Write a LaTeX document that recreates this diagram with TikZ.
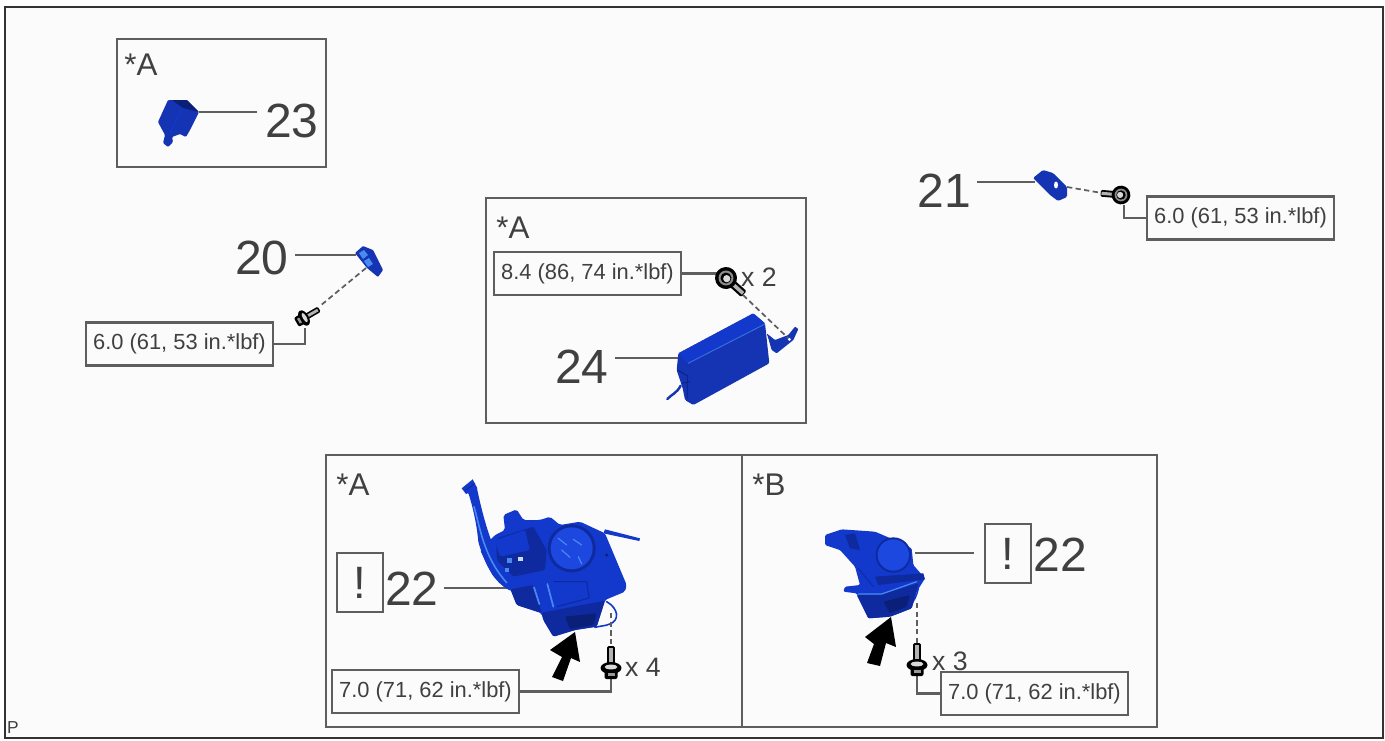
\documentclass[tikz,border=0pt]{standalone}
\usepackage{fontspec}
\setmainfont{Liberation Sans}
\definecolor{bg}{HTML}{FBFBFB}
\definecolor{frm}{HTML}{5E5E5E}
\definecolor{txt}{HTML}{404040}
\definecolor{bl}{HTML}{1238CC}
\definecolor{bm}{HTML}{1434B4}
\definecolor{bd}{HTML}{0E2A9E}
\definecolor{bk}{HTML}{0A1F78}
\definecolor{bll}{HTML}{4A8AEE}
\definecolor{bcap}{HTML}{1C48E0}
\tikzset{
  panel/.style={draw=frm,line width=1.9pt,inner sep=0pt,outer sep=0pt},
  tbox/.style={draw=frm,line width=1.9pt,inner sep=0pt,outer sep=0pt,minimum width=140.25pt,minimum height=32pt,text=txt,font=\fontsize{16.4}{16.4}\selectfont},
  warnbox/.style={draw=frm,line width=1.8pt,inner sep=0pt,outer sep=0pt,minimum width=34.5pt,minimum height=44pt,text=txt,font=\fontsize{34}{34}\selectfont},
  bignum/.style={inner sep=0pt,outer sep=0pt,text=txt,font=\fontsize{36}{36}\selectfont},
  tag/.style={inner sep=0pt,outer sep=0pt,text=txt,font=\fontsize{23.5}{23.5}\selectfont},
  qty/.style={inner sep=0pt,outer sep=0pt,text=txt,font=\fontsize{20}{20}\selectfont},
  lead/.style={draw=frm,line width=1.7pt,line join=miter},
  dashline/.style={draw=frm,line width=1.3pt,dash pattern=on 4pt off 2.5pt},
  dk/.style={fill=bd,draw=none},
  dker/.style={fill=bk,draw=none},
  lt/.style={draw=bll,line width=.9pt,line cap=round},
  zoomlayer/.style={x=0.25pt,y=-0.25pt},
  boltside/.pic={
    \fill[black,rounded corners=1pt] (-3.8,-22) rectangle (3.8,-3);
    \fill[black!30] (-1.8,-20) rectangle (1.8,-5);
    \fill[black] (0,0) ellipse [x radius=10.5,y radius=6];
    \fill[black!15] (0,-1) ellipse [x radius=6.5,y radius=2.4];
    \fill[black,rounded corners=1.5pt] (-6.5,2) rectangle (6.5,11);
    \fill[black!40] (-3.5,5) rectangle (3.5,8);
  },
  boltface/.pic={
    \fill[black,rounded corners=1pt] (-4,-24) rectangle (4,0);
    \fill[black!30] (-1.8,-23) rectangle (1.8,-8);
    \fill[black] (0,0) circle (11);
    \fill[black!45] (0,0) circle (7.5);
    \fill[black] (0,0) circle (5.5);
    \fill[black!15] (0,-1) circle (3.6);
  }
}
\begin{document}
\begin{tikzpicture}[x=0.75pt,y=-0.75pt]
\useasboundingbox (0,0) rectangle (1385,740);
\fill[white] (0,0) rectangle (1385,740);
\fill[bg] (5,7) rectangle (1383,738);
\draw[black!80,line width=1pt] (5,7) rectangle (1383,738);

% panels
\node[panel,minimum width=156.75pt,minimum height=96pt] (panelA) at (221.5,103) {};
\node[panel,minimum width=240pt,minimum height=168.75pt] (panelB) at (646,310.5) {};
\node[panel,minimum width=311.75pt,minimum height=204pt] (panelC) at (534,591) {};
\node[panel,minimum width=311.25pt,minimum height=204pt] (panelD) at (949.5,591) {};

% tags
\node[tag] (tagA) at (141,65) {*A};
\node[tag] (tagB) at (513,228) {*A};
\node[tag] (tagC) at (353,485) {*A};
\node[tag] (tagD) at (769,485) {*B};
\node[font=\fontsize{13}{13}\selectfont,text=txt,inner sep=0pt] (pmark) at (13,728) {P};

% big numbers
\node[bignum] (n23) at (292,121) {23};
\node[bignum] (n20) at (262,258) {20};
\node[bignum] (n21) at (944,191) {21};
\node[bignum] (n24) at (582,367) {24};
\node[bignum] (n22a) at (412,589) {22};
\node[bignum] (n22b) at (1060,555) {22};

% warning boxes
\node[warnbox] (w22a) at (360,582.5) {!};
\node[warnbox] (w22b) at (1008,553.5) {!};

% torque boxes
\node[tbox] (t20) at (179.5,344) {6.0 (61, 53 in.*lbf)};
\node[tbox] (t24) at (587.5,273.5) {8.4 (86, 74 in.*lbf)};
\node[tbox] (t21) at (1240.5,218) {6.0 (61, 53 in.*lbf)};
\node[tbox] (t22a) at (425.5,691.5) {7.0 (71, 62 in.*lbf)};
\node[tbox] (t22b) at (1034.5,693.5) {7.0 (71, 62 in.*lbf)};

% quantities
\node[qty] (q24) at (759,277) {x 2};
\node[qty] (q22a) at (643,667) {x 4};
\node[qty] (q22b) at (950,661) {x 3};

% connector ends
\coordinate (p23) at (199,112);
\coordinate (p20) at (356,255);
\coordinate (p21) at (1035,182);
\coordinate (p24) at (678,358);
\coordinate (p22a) at (510,588);
\coordinate (p22b) at (915,553);
\coordinate (b20) at (304,318);
\coordinate (b24) at (726,278);
\coordinate (b21) at (1121,195);
\coordinate (b22a) at (611,668);
\coordinate (b22b) at (917,665);
\coordinate (h20a) at (366,268);
\coordinate (h20b) at (320,306);
\coordinate (h24a) at (743,295);
\coordinate (h24b) at (788,338);
\coordinate (h21a) at (1067,187);
\coordinate (h21b) at (1102,193);
\coordinate (h22aa) at (611,613);
\coordinate (h22ab) at (611,645);
\coordinate (h22ba) at (917,603);
\coordinate (h22bb) at (917,643);
\coordinate (k21) at (1124,205);
\coordinate (k20) at (305,328);

% leaders
\draw[lead,shorten >=6pt] (p23) -- (n23.west |- p23);
\draw[lead,shorten >=5pt] (p20) -- (n20.east |- p20);
\draw[lead,shorten >=5pt] (p21) -- (n21.east |- p21);
\draw[lead,shorten >=5pt] (p24) -- (n24.east |- p24);
\draw[lead,shorten >=4pt] (p22a) -- (n22a.east |- p22a);
\draw[lead,shorten >=8pt] (p22b) -- (w22b.west |- p22b);
\draw[lead] (t20.east) -| (k20);
\draw[lead] (t24.east) -- (b24 |- t24.east);
\draw[lead] (t21.west) -| (k21);
\draw[lead] (t22a.east) -| (b22a);
\draw[lead] (t22b.west) -| (b22b);

% dashed lines
\draw[dashline] (h20a) -- (h20b);
\draw[dashline] (h21a) -- (h21b);

% part 23
\fill[bm,rounded corners=.8pt] (168,100) -- (187,100) -- (199,112) -- (190,130) -- (186,137) -- (180,134) -- (172,137) -- (173,142) -- (168,147) -- (163,143) -- (165,135) -- (158,122) -- cycle;
\fill[dker,rounded corners=.6pt] (172,100) -- (187,100) -- (199,112) -- (183,108) -- cycle;
\draw[lt,draw=bl] (181,110) -- (170,134);

% part 20
\fill[bm,rounded corners=.6pt] (355,253) -- (363,246) -- (373,250) -- (383,270) -- (378,277) -- (367,268) -- cycle;
\fill[bll] (359,253) -- (364,250) -- (368,255) -- (363,259) -- cycle;
\fill[bll] (364,261) -- (369,258) -- (373,264) -- (368,267) -- cycle;

% part 21
\fill[bm,rounded corners=1pt] (1033,178) -- (1043,170) -- (1053,173) -- (1067,187) -- (1067,197) -- (1058,201) -- (1050,195) -- cycle;
\fill[white] (1056,185) ellipse [x radius=2,y radius=3.5];

% part 24
\begin{scope}[shift={(660,255)},zoomlayer]
\draw[draw=bm,line width=1.8pt,line cap=round] (62,392) .. controls (50,415) and (35,418) .. (22,432);
\fill[bm,rounded corners=.6pt] (320,235) -- (345,255) -- (385,240) -- (405,215) -- (415,222) -- (400,255) -- (350,295) -- (335,285) -- (325,250) -- cycle;
\fill[white] (388,253) circle (5);
\fill[bm,rounded corners=1pt] (55,295) -- (280,175) -- (315,205) -- (328,325) -- (100,450) -- (75,435) -- (68,400) -- (50,345) -- cycle;
\fill[bl,rounded corners=.6pt] (55,295) -- (280,175) -- (315,205) -- (82,325) -- cycle;
\draw[draw=bll,line width=.7pt,opacity=.7] (84,325) -- (315,207);
\draw[bk,line width=.6pt] (52,345) -- (82,362) -- (82,430);
\draw[bk,line width=.6pt] (65,385) -- (90,380);
\end{scope}

% part 22 A
\begin{scope}[shift={(450,470)},zoomlayer]
\fill[bl] (465,178) -- (570,205) -- (568,213) -- (460,190) -- cycle;
\draw[draw=bl,line width=1.2pt,line cap=round] (470,395) .. controls (505,415) and (510,450) .. (480,462) .. controls (465,468) and (450,468) .. (435,472);
\fill[bl,rounded corners=1.5pt] (135,195) -- (165,180) -- (160,135) -- (200,118) -- (220,150) -- (270,150) -- (300,140) -- (330,165) -- (390,155) -- (465,190) -- (530,345) -- (525,365) -- (465,390) -- (440,470) -- (375,480) -- (310,500) -- (280,450) -- (275,430) -- (200,405) -- (180,355) -- (130,320) -- (90,240) -- cycle;
% lower housing
\fill[bd,rounded corners=1pt] (275,428) -- (465,392) -- (440,470) -- (375,480) -- (310,500) -- (280,450) -- cycle;
\fill[dker,rounded corners=1pt] (345,440) -- (440,430) -- (430,465) -- (360,478) -- cycle;
\fill[bd,rounded corners=1pt] (182,358) -- (250,345) -- (275,428) -- (200,405) -- cycle;
\draw[bd,line width=.8pt] (310,335) -- (410,335) -- (418,385);
\draw[bd,line width=.8pt] (415,385) -- (320,410);
% pump
\fill[bd,rounded corners=1pt] (140,205) -- (250,170) -- (290,240) -- (285,300) -- (190,320) -- (140,270) -- cycle;
\fill[bl,rounded corners=1.5pt] (135,210) -- (225,180) -- (240,240) -- (150,260) -- cycle;
\fill[bll] (170,265) rectangle (185,278);
\fill[bll] (165,295) rectangle (178,305);
\fill[white!70!bll] (205,262) rectangle (220,272);
% tube
\fill[bl] (45,62) -- (80,50) .. controls (92,110) and (108,170) .. (125,215) .. controls (138,270) and (162,320) .. (190,335) -- (182,362) .. controls (140,345) and (105,290) .. (85,215) .. controls (80,160) and (68,110) .. (56,72) -- cycle;
\fill[bl] (35,55) -- (68,28) -- (82,55) -- (48,72) -- cycle;
\draw[draw=bll,line width=1.2pt,line cap=round] (72,110) .. controls (90,170) and (100,260) .. (170,338);
\draw[bd,line width=.7pt] (45,62) -- (75,40);
% stripes
\draw[lt,line width=1.3pt] (252,352) -- (268,402);
\draw[lt,line width=1.3pt] (292,342) -- (310,410);
% cap
\fill[bd] (365,235) circle (72);
\fill[bcap] (365,235) circle (63);
\draw[lt] (325,205) -- (350,225);
\draw[lt] (385,260) -- (395,282);
\draw[lt] (335,240) -- (360,262);
\draw[lt] (370,208) -- (395,225);
\fill[bk] (470,255) circle (5);
\end{scope}

% part 22 B
\begin{scope}[shift={(815,520)},zoomlayer]
\draw[draw=bl,line width=1.1pt,line cap=round] (310,205) .. controls (300,250) and (280,270) .. (230,285);
\fill[bl,rounded corners=1pt] (30,45) -- (80,28) -- (180,35) -- (250,65) -- (290,85) -- (295,135) -- (330,175) -- (305,215) -- (290,265) -- (225,290) -- (160,295) -- (125,220) -- (85,215) -- (90,200) -- (135,195) -- (120,140) -- (75,90) -- (30,75) -- cycle;
\fill[bd,rounded corners=.8pt] (125,225) -- (195,225) -- (310,190) -- (290,265) -- (225,290) -- (160,295) -- cycle;
\fill[dker,rounded corners=.8pt] (205,245) -- (285,225) -- (275,260) -- (225,280) -- cycle;
\fill[bd] (90,45) -- (120,40) -- (135,90) -- (105,85) -- cycle;
\fill[bd] (180,170) -- (325,160) -- (330,178) -- (190,195) -- cycle;
\fill[bd] (235,105) circle (53);
\fill[bcap] (235,105) circle (47);
\draw[lt] (130,222) -- (200,222) -- (305,185);
\draw[bd,line width=.6pt] (130,145) -- (175,200);
\end{scope}

% dashed bolts 22 and bolt 24
\draw[dashline] (h24a) -- (h24b);
\draw[dashline] (h22aa) -- (h22ab);
\draw[dashline] (h22ba) -- (h22bb);

% bolts
\pic[scale=.8,rotate=-60] at (b20) {boltside};
\pic[rotate=-132] at (b24) {boltface};
\pic[scale=.85,rotate=85] at (b21) {boltface};
\pic at (b22a) {boltside};
\pic at (b22b) {boltside};

% arrows
\fill[black] (575,632) -- (550,650) -- (562,657) -- (552,677) -- (563,681) -- (571,658) -- (580,662) -- cycle;
\fill[black] (891,617) -- (865,637) -- (874,644) -- (867,663) -- (880,666) -- (886,643) -- (896,647) -- cycle;
\end{tikzpicture}
\end{document}
